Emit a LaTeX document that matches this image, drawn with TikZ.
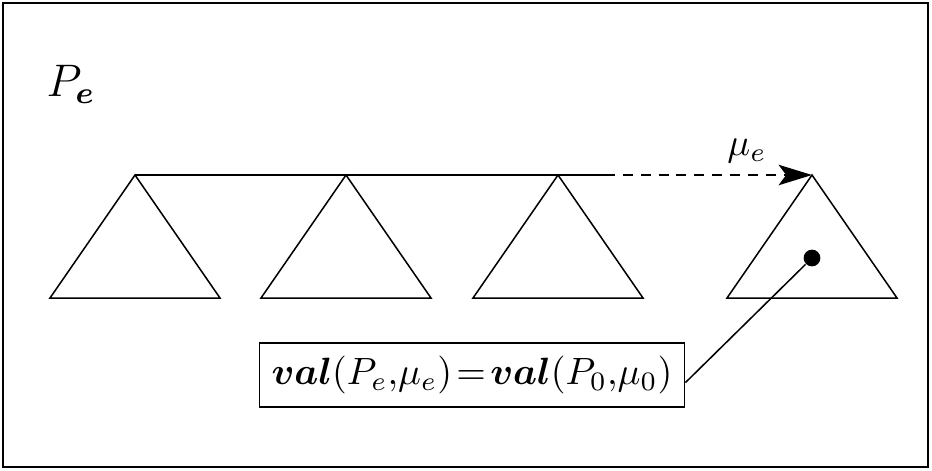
\documentclass[tikz,border=0pt]{standalone}
\usepackage{amsmath,amssymb}
\usepackage{tikz}
\usetikzlibrary{arrows.meta,positioning}
\tikzset{
    tree/.style={line width=0.4pt, line join=miter},
    valbox/.style={rectangle, draw, line width=0.45pt, minimum width=111.8pt,
        minimum height=17pt, inner sep=1pt},
    leaf/.style={circle, fill, inner sep=0pt, minimum size=4.4pt},
    step flow/.style={-{Stealth[length=8.8pt,width=5.4pt,inset=2pt]}, line width=0.4pt,
        dash pattern=on 2.6pt off 2.1pt}
}

\begin{document}
\begin{tikzpicture}[x=0.263pt, y=-0.263pt]
        \useasboundingbox (0,0) rectangle (932,470);
        \draw[line width=0.5pt] (3,3) rectangle (928,467);
        \node[font=\large] (pe) at (71,84) {$P_{\boldsymbol{e}}$};
        % tops of the four trees
        \coordinate (top1) at (135,175);
        \coordinate (top2) at (346,175);
        \coordinate (top3) at (558,175);
        \coordinate (top4) at (812,175);
        \coordinate (gap) at (605,175);
        \foreach \t in {top1,top2,top3,top4}
            \draw[tree] (\t) -- ++(-85,123) -- ++(170,0) -- cycle;
        \draw[tree] (top1) -- (gap);
        \draw[step flow] (gap) -- (top4);
        \node (mue) at (747,151) {$\mu_e$};
        \node[leaf] (dot) at (812,258) {};
        \node[valbox] (val) at (472,375)
            {$\boldsymbol{val}(P_e{,}\mu_e)\!=\!\boldsymbol{val}(P_0{,}\mu_0)$};
        \draw[tree] (dot) -- ([yshift=-2pt]val.east);
    \end{tikzpicture}
\end{document}
